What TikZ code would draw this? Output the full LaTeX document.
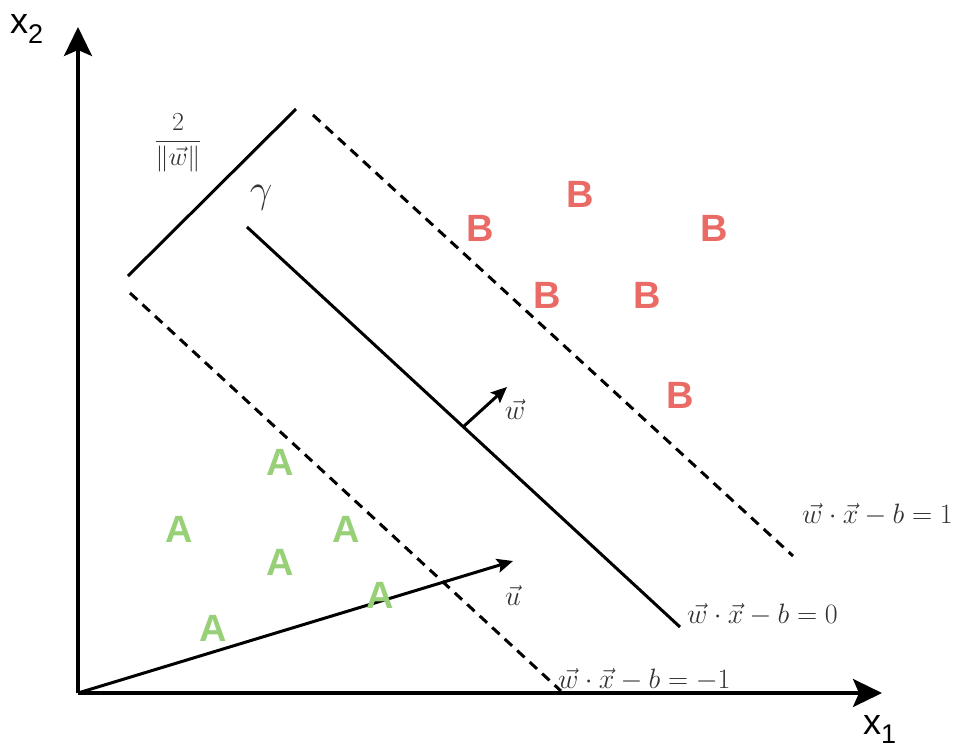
\RequirePackage{fix-cm}
\documentclass[tikz,border=0pt]{standalone}
\usepackage{fontspec}
\setmainfont{Liberation Sans}
\usetikzlibrary{arrows.meta}

\definecolor{clsA}{HTML}{97D077}
\definecolor{clsB}{HTML}{EA6B66}
\definecolor{eqgray}{HTML}{333333}

\tikzset{
  axtip/.tip = {Stealth[length=29pt,width=28pt,inset=6pt]},
  vectip/.tip = {Stealth[length=16pt,width=14pt,inset=3pt]},
  ptA/.style = {text=clsA, inner sep=0pt, font=\fontsize{38}{40}\selectfont\bfseries},
  ptB/.style = {text=clsB, inner sep=0pt, font=\fontsize{38}{40}\selectfont\bfseries},
  eq/.style = {text=eqgray, inner sep=0pt, anchor=base west, font=\fontsize{28}{30}\selectfont},
  axlabel/.style = {inner sep=0pt, anchor=base west, font=\fontsize{36}{38}\selectfont},
  margin/.style = {line width=3pt, dash pattern=on 10pt off 7pt},
  plane/.style = {line width=3pt}
}

\begin{document}
\begin{tikzpicture}[x=1pt,y=-1pt]
\useasboundingbox (0,0) rectangle (962,745);

% axes
\coordinate (O) at (78,693);
\coordinate (X1) at (882,693);
\coordinate (X2) at (78,27);
\draw [line width=3.2pt,-axtip] (O) -- (X1);
\draw [line width=3.2pt,-axtip] (O) -- (X2);
\node [axlabel] (lx1) at (863,734) {x\raisebox{-9pt}{\fontsize{27}{27}\selectfont 1}};
\node [axlabel] (lx2) at (10,33) {x\raisebox{-10pt}{\fontsize{27}{27}\selectfont 2}};

% hyperplane and margins
\coordinate (h0) at (247,227);
\coordinate (h1) at (680,627);
\coordinate (p0) at (313,115);
\coordinate (p1) at (793,556);
\coordinate (m0) at (130,293);
\coordinate (m1) at (561,691);
\coordinate (g0) at (128,276);
\coordinate (g1) at (296,109);
\draw [plane] (h0) -- (h1);
\draw [margin] (p0) -- (p1);
\draw [margin] (m0) -- (m1);
\draw [plane] (g0) -- (g1);

% vectors
\coordinate (w0) at (463,427);
\coordinate (w1) at (507,387);
\coordinate (u1) at (513,561);
\draw [plane,-vectip] (w0) -- (w1);
\draw [plane,-vectip] (O) -- (u1);

% labels
\node [eq] (eqp) at (802,523) {$\vec{w}\cdot\vec{x}-b=1$};
\node [eq] (eqh) at (687,623) {$\vec{w}\cdot\vec{x}-b=0$};
\node [eq] (eqm) at (558,688) {$\vec{w}\cdot\vec{x}-b=-1$};
\node [eq,anchor=center] (lu) at (513,596) {$\vec{u}$};
\node [eq,anchor=center] (lw) at (515,410) {$\vec{w}$};
\node [eq,anchor=center,font=\fontsize{40}{42}\selectfont] (lg) at (261,198) {$\gamma$};
\node [eq,anchor=center,font=\fontsize{26}{28}\selectfont] (lfrac) at (178,143) {$\displaystyle\frac{2}{\|\vec{w}\|}$};

% class A
\node [ptA] (a1) at (280,462) {A};
\node [ptA] (a2) at (179,529) {A};
\node [ptA] (a3) at (346,529) {A};
\node [ptA] (a4) at (280,562) {A};
\node [ptA] (a5) at (380,595) {A};
\node [ptA] (a6) at (213,628) {A};

% class B
\node [ptB] (b1) at (580,194) {B};
\node [ptB] (b2) at (480,228) {B};
\node [ptB] (b3) at (714,228) {B};
\node [ptB] (b4) at (547,295) {B};
\node [ptB] (b5) at (647,295) {B};
\node [ptB] (b6) at (680,395) {B};
\end{tikzpicture}
\end{document}
